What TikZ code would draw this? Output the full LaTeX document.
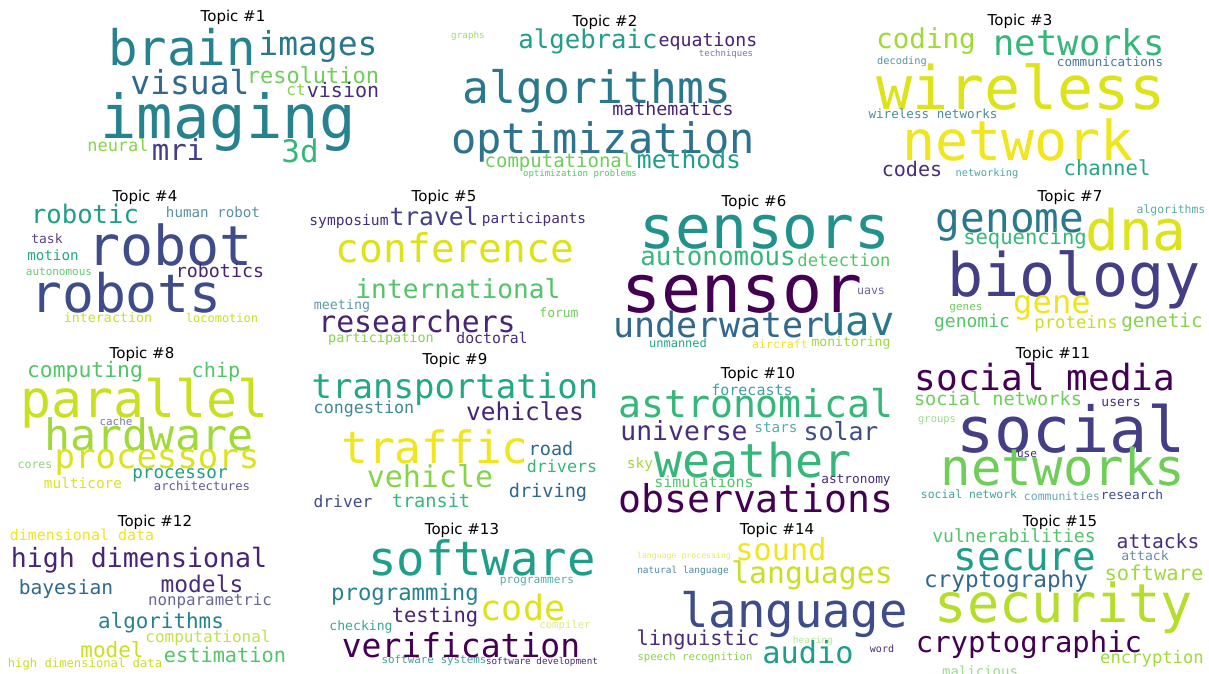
\documentclass[tikz,border=0pt]{standalone}
\usepackage{fontspec}
\newfontfamily\cloudfont{DejaVu Sans Mono}
\newfontfamily\titlefont{DejaVu Sans}

% viridis
\definecolor{vA}{HTML}{440154}
\definecolor{vB}{HTML}{482475}
\definecolor{vC}{HTML}{472D7B}
\definecolor{vD}{HTML}{433E85}
\definecolor{vE}{HTML}{3E4C8A}
\definecolor{vF}{HTML}{31688E}
\definecolor{vG}{HTML}{2A788E}
\definecolor{vH}{HTML}{26828E}
\definecolor{vI}{HTML}{21918C}
\definecolor{vJ}{HTML}{1F9E89}
\definecolor{vK}{HTML}{22A884}
\definecolor{vL}{HTML}{35B779}
\definecolor{vM}{HTML}{52C569}
\definecolor{vN}{HTML}{6ECE58}
\definecolor{vO}{HTML}{86D549}
\definecolor{vP}{HTML}{A0DA39}
\definecolor{vQ}{HTML}{B5DE2B}
\definecolor{vR}{HTML}{C8E020}
\definecolor{vS}{HTML}{DDE318}
\definecolor{vT}{HTML}{F1E51D}

\tikzset{
  word/.style={font=\cloudfont\fontsize{#1}{#1}\selectfont, anchor=base, inner sep=0pt},
  title/.style={font=\titlefont\fontsize{15}{15}\selectfont, anchor=base, inner sep=0pt}
}

\begin{document}
\begin{tikzpicture}[x=1pt, y=-1pt]
\fill[white] (0,0) rectangle (1209,673);
\useasboundingbox (0,0) rectangle (1209,673);

\foreach \tx/\ty [count=\k] in {233/21,605/26,1020/25,145/201,444/201,754/206,1070/201,
    142/358,455/364,758/378,1053/358,155/526,462/534,777/534,1060/526}
  \node[title] (title\k) at (\tx,\ty) {Topic \#\k};

% topic 1
\foreach \px/\py/\fs/\col/\txt [count=\i] in {182/65/49/vH/brain,318/55/33/vG/images,
    190/94/33/vF/visual,313/83/22/vN/resolution,296/95/16/vO/ct,343/97/20/vC/vision,
    228/138/60.5/vH/imaging,118/151/17/vO/neural,178/160/29/vD/mri,300/162/31/vL/3d}
  \node[word=\fs, text=\col] (t1w\i) at (\px,\py) {\txt};

% topic 2
\foreach \px/\py/\fs/\col/\txt [count=\i] in {468/38/9.3/vO!80/graphs,588/48/25.7/vJ/algebraic,
    708/46/18.2/vB/equations,726/56/9/vD!70/techniques,597/103/44.6/vG/algorithms,
    673/115/18.3/vB/mathematics,603/153/42/vG!60!vF/optimization,559/167/19/vN/computational,
    689/168/24.7/vJ/methods,580/176/9/vM/optimization problems}
  \node[word=\fs, text=\col] (t2w\i) at (\px,\py) {\txt};

% topic 3
\foreach \px/\py/\fs/\col/\txt [count=\i] in {926/48/27.5/vP/coding,1079/55/35.5/vL/networks,
    902/64/10.3/vG!80/decoding,1110/66/12.6/vF!90/communications,1021/109/60/vS/wireless,
    933/118/12.6/vG!85/wireless networks,1018/160/55/vT/network,912/176/20.1/vC/codes,
    987/176/10.4/vI!80/networking,1107/175/20.6/vK/channel}
  \node[word=\fs, text=\col] (t3w\i) at (\px,\py) {\txt};

% topic 4
\foreach \px/\py/\fs/\col/\txt [count=\i] in {85/223/25.6/vJ/robotic,213/217/14.2/vG!80/human robot,
    170/265/55/vE/robot,47/243/13/vC!90/task,53/260/14.2/vK/motion,59/275/11/vM!90/autonomous,
    220/277/18.3/vB/robotics,126/312/53/vE/robots,108/322/13.3/vR/interaction,
    222/322/12/vR/locomotion}
  \node[word=\fs, text=\col] (t4w\i) at (\px,\py) {\txt};

% topic 5
\foreach \px/\py/\fs/\col/\txt [count=\i] in {349/225/14.6/vC/symposium,434/225/24.6/vD/travel,
    534/223/14.4/vC/participants,455/262/39.6/vS/conference,458/298/26.2/vM/international,
    342/309/13.3/vG!75/meeting,559/317/13/vN/forum,417/332/29.8/vB/researchers,
    381/342/13.5/vO/participation,492/343/14.8/vC/doctoral}
  \node[word=\fs, text=\col] (t5w\i) at (\px,\py) {\txt};

% topic 6
\foreach \px/\py/\fs/\col/\txt [count=\i] in {765/248/59.5/vI/sensors,718/265/25.8/vL/autonomous,
    844/266/17.2/vM/detection,742/312/66.5/vA/sensor,871/294/11.6/vD!80/uavs,
    719/337/35/vF/underwater,858/335/40.6/vG/uav,678/347/12/vK/unmanned,
    780/348/11.6/vT/aircraft,851/346/13.1/vP/monitoring}
  \node[word=\fs, text=\col] (t6w\i) at (\px,\py) {\txt};

% topic 7
\foreach \px/\py/\fs/\col/\txt [count=\i] in {1010/232/41/vG/genome,1171/213/11.4/vI!75/algorithms,
    1025/244/20.5/vL/sequencing,1136/250/56/vS/dna,1074/296/60/vD/biology,966/310/11/vN/genes,
    1052/313/32.2/vT/gene,972/327/18/vM/genomic,1076/328/17.3/vR/proteins,
    1162/327/19.3/vO/genetic}
  \node[word=\fs, text=\col] (t7w\i) at (\px,\py) {\txt};

% topic 8
\foreach \px/\py/\fs/\col/\txt [count=\i] in {85/377/21.4/vM/computing,216/377/20.2/vM/chip,
    145/417/51.5/vR/parallel,116/425/10.9/vD!70/cache,149/450/43.3/vP/hardware,
    157/468/34/vS/processors,35/468/11.6/vN!80/cores,180/478/17.6/vJ/processor,
    83/488/14.4/vS/multicore,202/490/12.3/vD!85/architectures}
  \node[word=\fs, text=\col] (t8w\i) at (\px,\py) {\txt};

% topic 9
\foreach \px/\py/\fs/\col/\txt [count=\i] in {455/398/34/vK/transportation,364/413/16.7/vG!90/congestion,
    525/420/24.5/vB/vehicles,435/463/44.5/vT/traffic,551/455/18.5/vF/road,562/472/16.7/vL/drivers,
    430/487/30/vO/vehicle,548/497/18.6/vF/driving,343/507/16.2/vE/driver,431/507/18.6/vL/transit}
  \node[word=\fs, text=\col] (t9w\i) at (\px,\py) {\txt};

% topic 10
\foreach \px/\py/\fs/\col/\txt [count=\i] in {752/395/15/vI!85/forecasts,756/417/38.2/vL/astronomical,
    684/440/26.4/vC/universe,776/432/14.3/vI!75/stars,841/440/24.9/vE/solar,640/468/14.5/vP/sky,
    753/477/46.7/vL/weather,704/487/15/vM/simulations,856/483/12.8/vC/astronomy,
    756/512/38.2/vA/observations}
  \node[word=\fs, text=\col] (t10w\i) at (\px,\py) {\txt};

% topic 11
\foreach \px/\py/\fs/\col/\txt [count=\i] in {1045/390/36/vA/social media,998/405/18.6/vN/social networks,
    1121/406/13/vC/users,937/422/10.4/vN!70/groups,1071/452/63.4/vD/social,1027/457/11/vC/use,
    1063/485/50.7/vN/networks,969/498/11.4/vI!85/social network,1062/500/11.5/vH!70/communities,
    1132/499/12.9/vE/research}
  \node[word=\fs, text=\col] (t11w\i) at (\px,\py) {\txt};

% topic 12
\foreach \px/\py/\fs/\col/\txt [count=\i] in {82/540/15/vT/dimensional data,139/567/26.6/vB/high dimensional,
    66/594/19.6/vF/bayesian,202/592/22.9/vC/models,210/605/15.8/vD!80/nonparametric,
    161/628/20.9/vH/algorithms,208/642/16/vQ!85/computational,112/657/21/vR/model,
    225/662/20.3/vM/estimation,85/667/12.2/vR/high dimensional data}
  \node[word=\fs, text=\col] (t12w\i) at (\px,\py) {\txt};

% topic 13
\foreach \px/\py/\fs/\col/\txt [count=\i] in {482/575/47.3/vJ/software,537/583/11.2/vI!75/programmers,
    405/600/22.3/vH/programming,523/620/35/vS/code,435/622/20.5/vB/testing,
    361/630/13.1/vJ!90/checking,565/628/10.6/vR!60/compiler,461/657/33/vA/verification,
    434/663/10.9/vI!85/software systems,542/664/9.3/vC/software development}
  \node[word=\fs, text=\col] (t13w\i) at (\px,\py) {\txt};

% topic 14
\foreach \px/\py/\fs/\col/\txt [count=\i] in {684/558/8.2/vS!70/language processing,781/560/30.3/vT/sound,
    683/573/9.5/vG!85/natural language,812/583/29.8/vR/languages,794/627/47.3/vE/language,
    698/645/20.4/vC/linguistic,813/643/9.5/vO!60/hearing,808/663/30.3/vJ/audio,882/652/10/vC/word,
    695/660/10.6/vO/speech recognition}
  \node[word=\fs, text=\col] (t14w\i) at (\px,\py) {\txt};

% topic 15
\foreach \px/\py/\fs/\col/\txt [count=\i] in {1014/542/18.1/vM/vulnerabilities,1158/548/19.6/vC/attacks,
    1025/570/39.4/vJ/secure,1145/560/13.1/vF!75/attack,1006/587/22.7/vF/cryptography,
    1154/580/20.5/vP/software,1064/622/53.6/vQ/security,1029/652/28.9/vA/cryptographic,
    1152/663/17.2/vP/encryption,980/676/14/vN!70/malicious}
  \node[word=\fs, text=\col] (t15w\i) at (\px,\py) {\txt};

\end{tikzpicture}
\end{document}
